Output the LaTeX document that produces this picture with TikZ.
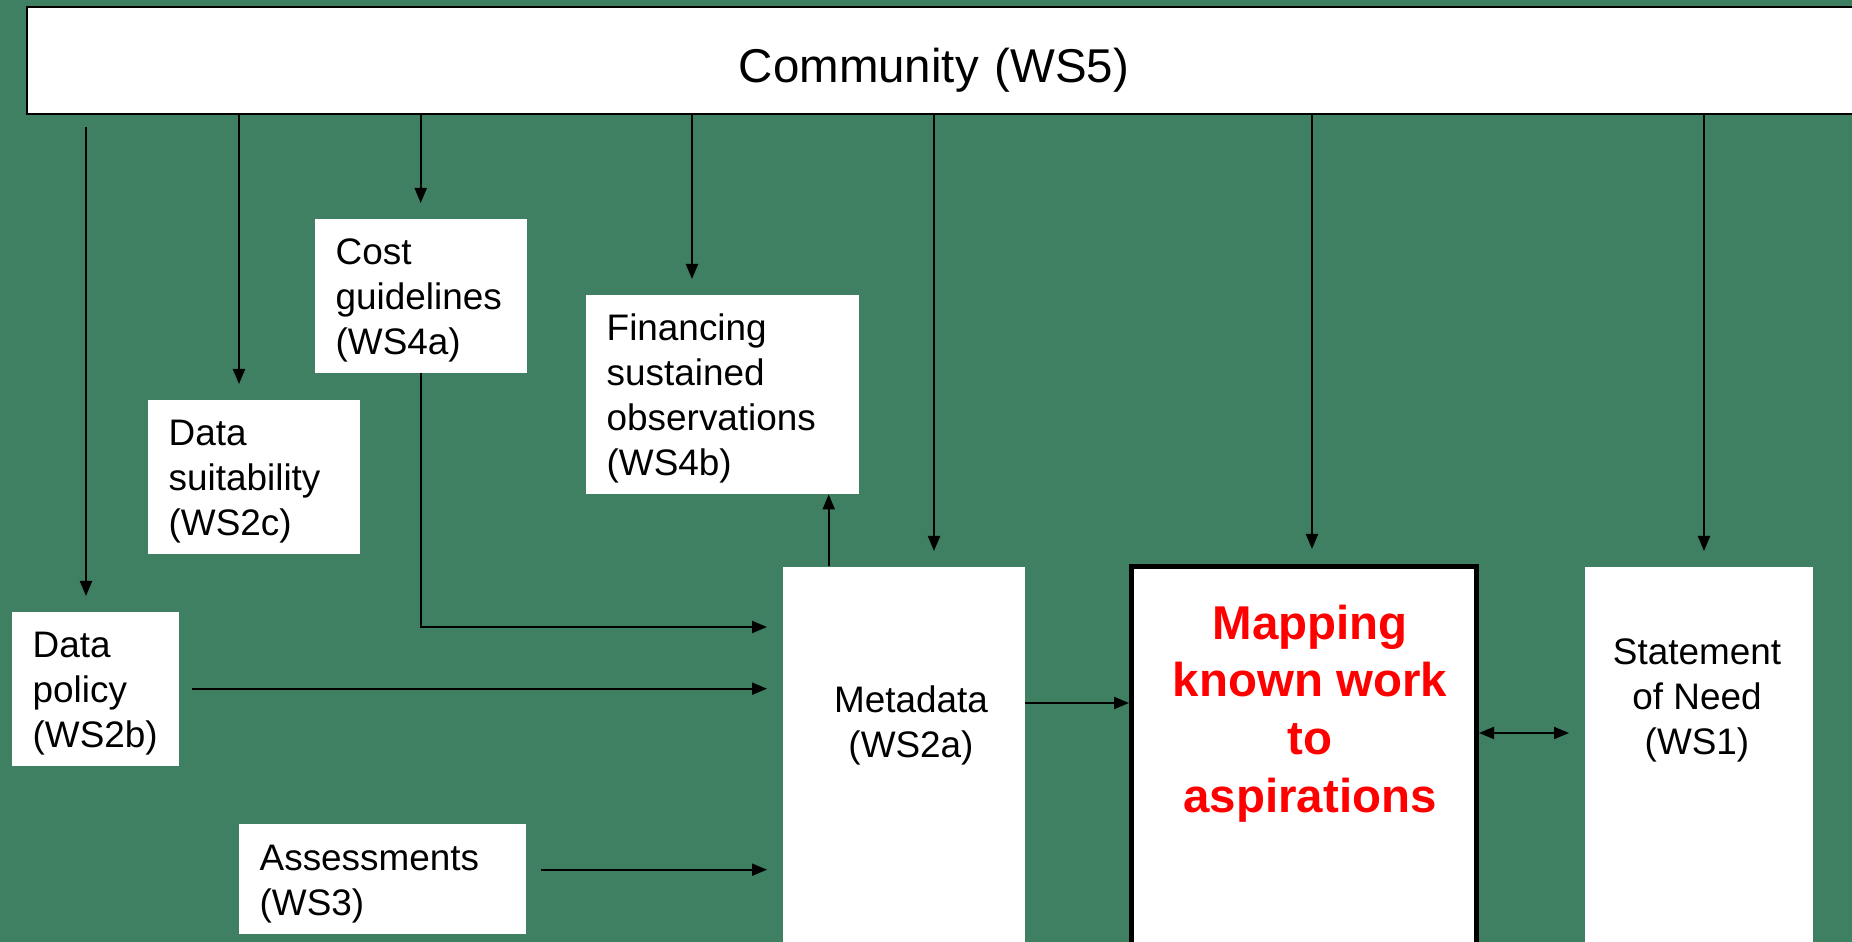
\documentclass[tikz,border=0pt]{standalone}
\usepackage{fontspec}
\setmainfont{Liberation Sans}
\usetikzlibrary{arrows.meta}
\definecolor{bggreen}{RGB}{62,128,97}
\newcommand\boxfont{\fontsize{10.5}{12.8}\selectfont}
\newcommand\bigfont{\fontsize{13.5}{16.4}\selectfont}
\begin{document}
\begin{tikzpicture}[
    box/.style={fill=white, anchor=north west, inner xsep=2.1mm, inner ysep=0pt, align=left, text height=10.2pt, font=\boxfont},
    tall/.style={fill=white, anchor=north west, minimum height=4cm, inner sep=0pt},
    label/.style={align=center, font=\boxfont},
    arrow/.style={-{Triangle[length=1.5mm,width=1.2mm]}, line width=0.2mm},
    gap/.style={shorten >=1.5mm}
]
\clip (0,0) rectangle (18.52,-9.42);
\fill[bggreen] (0,0) rectangle (18.52,-9.42);

% top bar
\node[draw, fill=white, line width=0.2mm, anchor=north west, inner xsep=0pt, text width=18.5cm, align=left, text height=12.5pt, text depth=0pt, minimum height=1.07cm, font=\bigfont] (comm) at (0.26,-0.06) {\makebox[18.14cm]{Community (WS5)}};

% side boxes
\node[box, text width=1.70cm, minimum height=1.54cm] (cost) at (3.14,-2.18) {Cost\\guidelines\\(WS4a)};
\node[box, text width=2.31cm, minimum height=1.99cm] (fin) at (5.85,-2.94) {Financing\\sustained\\observations\\(WS4b)};
\node[box, text width=1.70cm, minimum height=1.54cm] (dsuit) at (1.47,-3.99) {Data\\suitability\\(WS2c)};
\node[box, text width=1.25cm, minimum height=1.54cm] (dpol) at (0.11,-6.11) {Data\\policy\\(WS2b)};
\node[box, text width=2.45cm, minimum height=1.10cm] (assess) at (2.38,-8.23) {Assessments\\(WS3)};

% tall boxes
\node[tall, minimum width=2.42cm] (meta) at (7.82,-5.66) {};
\node[tall, draw, line width=0.5mm, minimum width=3.45cm] (map) at (11.29,-5.64) {};
\node[tall, minimum width=2.28cm] (stat) at (15.84,-5.66) {};
\node[label] (metatxt) at (9.11,-7.25) {Metadata\\(WS2a)};
\node[label, font=\bigfont\bfseries, text=red] (maptxt) at (13.10,-7.135) {Mapping\\known work\\to\\aspirations};
\node[label] (stattxt) at (16.97,-7.00) {Statement\\of Need\\(WS1)};

% arrows from the community
\coordinate (c1) at (0.86,-1.27);
\coordinate (c2) at (2.39,-1.13);
\coordinate (c4) at (6.92,-1.13);
\coordinate (c5) at (9.34,-1.13);
\coordinate (c6) at (13.12,-1.13);
\coordinate (c7) at (17.04,-1.13);
\draw[arrow, gap] (c1) -- (c1 |- dpol.north);
\draw[arrow, gap] (c2) -- (c2 |- dsuit.north);
\draw[arrow, gap] (cost.north |- comm.south) -- (cost.north);
\draw[arrow, gap] (c4) -- (c4 |- fin.north);
\draw[arrow, gap] (c5) -- (c5 |- meta.north);
\draw[arrow, gap] (c6) -- (c6 |- map.north);
\draw[arrow, gap] (c7) -- (c7 |- stat.north);

% arrows into and out of the metadata
\draw[arrow, gap] (cost.south) |- ([yshift=-6.1mm]meta.north west);
\draw[arrow, gap, shorten <=1.3mm] (dpol.east) -- (dpol.east -| meta.west);
\draw[arrow, gap, shorten <=1.5mm] ([yshift=0.9mm]assess.east) -- ([yshift=0.9mm]assess.east -| meta.west);
\draw[arrow] ([xshift=-7.5mm]meta.north) -- ([xshift=-7.5mm]meta.north |- fin.south);
\draw[arrow] ([yshift=-13.7mm]meta.north east) -- ([yshift=-13.7mm]meta.north east -| map.west);
\draw[arrow, gap, {Triangle[length=1.5mm,width=1.2mm]}-{Triangle[length=1.5mm,width=1.2mm]}] ([yshift=-16.9mm]map.north east) -- ([yshift=-16.9mm]map.north east -| stat.west);
\end{tikzpicture}
\end{document}
